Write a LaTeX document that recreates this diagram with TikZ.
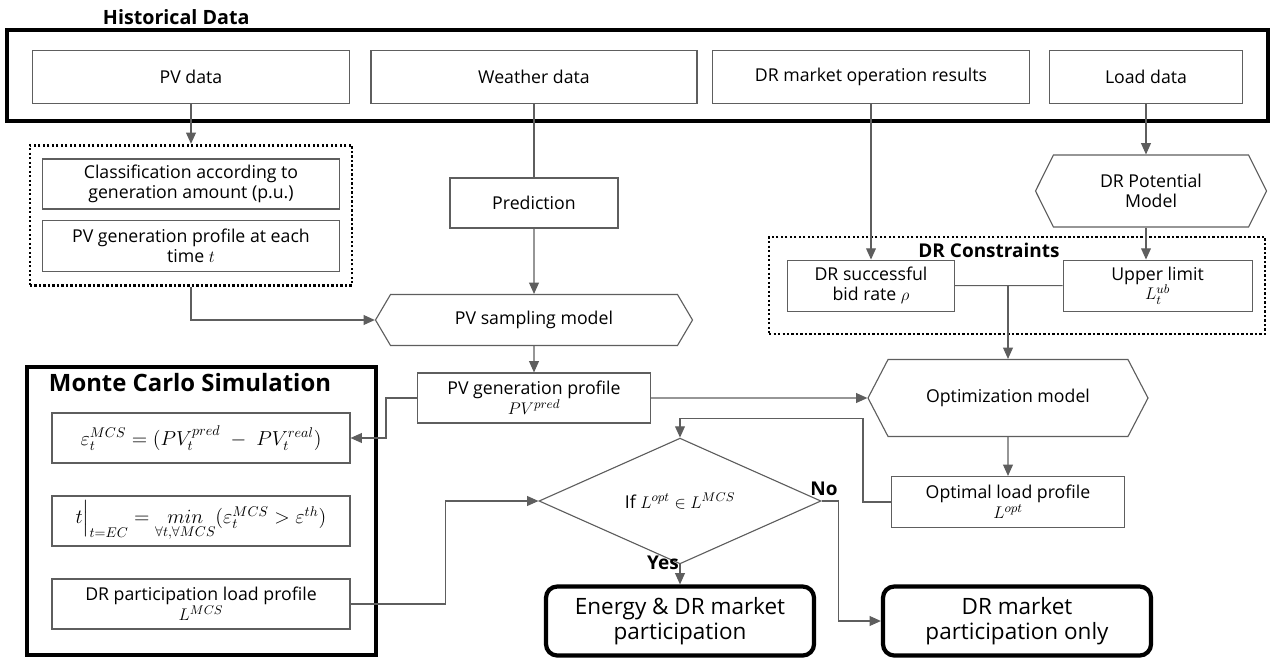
\documentclass[tikz,border=0pt]{standalone}
\usepackage{amsmath}
\usepackage{fontspec}
\setmainfont{Open Sans}
\usetikzlibrary{positioning,shapes.geometric,shapes.symbols,arrows.meta,fit}
\definecolor{linegray}{HTML}{5E5E5E}

\tikzset{
	box/.style={draw=linegray, line width=0.8pt, rectangle, align=center, inner sep=2pt, font=\fontsize{12.6}{14}\selectfont},
	hexa/.style={box, signal, signal to=west and east},
	cond/.style={box, diamond, inner sep=0pt, minimum width=7.05cm, minimum height=2.475cm},
	frame/.style={draw=black, line width=3pt},
	dotframe/.style={draw=black, line width=2pt, dash pattern=on 1.6pt off 1.6pt},
	endbox/.style={draw=black, line width=3pt, rounded corners=8pt, align=center, font=\fontsize{16}{18}\selectfont},
	link/.style={draw=linegray, line width=0.8pt},
	arr/.style={link, -{Triangle[length=8pt,width=7pt]}},
	title/.style={font=\fontsize{14}{17}\selectfont\bfseries},
	tag/.style={font=\fontsize{13.5}{15}\selectfont\bfseries}
}

\begin{document}
\begin{tikzpicture}[node distance=2cm,on grid,auto]
	\useasboundingbox (0,0) rectangle (31.825,-16.45);
	\node (h) [frame, minimum width=31.525cm, minimum height=2.275cm] at (15.94,-1.89) {};
	\node (ht) [title, anchor=west] at (2.45,-0.425) {Historical Data};
	\node (1) [box, minimum width=7.925cm, minimum height=1.325cm] at (4.775,-1.925) {PV data};
	\node (2) [box, minimum width=8.15cm, minimum height=1.325cm, right=8.575cm of 1] {Weather data};
	\node (3) [box, minimum width=7.925cm, minimum height=1.325cm, right=8.425cm of 2] {DR market operation results};
	\node (4) [box, minimum width=4.825cm, minimum height=1.325cm, right=6.875cm of 3] {Load data};
	\node (5) [box, minimum width=7.425cm, minimum height=1.25cm, below=2.675cm of 1] {Classification according to\\generation amount (p.u.)};
	\node (6) [box, minimum width=7.425cm, minimum height=1.275cm, below=1.55cm of 5] {PV generation profile at each\\time $t$};
	\node (g1) [dotframe, fit=(5)(6), inner xsep=0.3cm, inner ysep=0.33cm] {};
	\node (7) [box, minimum width=4.2cm, minimum height=1.25cm, below=3.15cm of 2] {Prediction};
	\node (8) [hexa, signal pointer angle=119, minimum width=7.925cm, minimum height=1.275cm, below=2.925cm of 7] {PV sampling model};
	\node (9) [box, minimum width=5.825cm, minimum height=1.25cm, below=1.95cm of 8] {PV generation profile\\$PV^{pred}$};
	\node (10) [hexa, signal pointer angle=127, minimum width=5.775cm, minimum height=1.8cm] at (28.775,-4.775) {DR Potential\\Model};
	\node (g2) [dotframe, minimum width=12.4cm, minimum height=2.425cm] at (25.425,-7.1375) {};
	\node (gt) [tag] at (24.725,-6.25) {DR Constraints};
	\node (11) [box, minimum width=4.175cm, minimum height=1.275cm, below=5.215cm of 3] {DR successful\\bid rate $\rho$};
	\node (12) [box, minimum width=4.725cm, minimum height=1.275cm] at (28.94,-7.14) {Upper limit\\$L_t^{ub}$};
	\node (13) [hexa, signal pointer angle=125, minimum width=7cm, minimum height=1.925cm] at (25.2,-9.95) {Optimization model};
	\node (14) [box, minimum width=5.825cm, minimum height=1.275cm, below=2.6cm of 13] {Optimal load profile\\$L^{opt}$};
	\node (mc) [frame, minimum width=8.725cm, minimum height=7.2cm] at (5.04,-12.775) {};
	\node (mct) [title, font=\fontsize{17}{20}\selectfont\bfseries, anchor=west] at (1.1,-9.575) {Monte Carlo Simulation};
	\node (15) [box, font=\fontsize{14}{16}\selectfont, minimum width=7.45cm, minimum height=1.25cm] at (5.025,-10.95) {$\varepsilon_t^{MCS}=(PV_t^{pred}\;-\;PV_t^{real})$};
	\node (16) [box, font=\fontsize{14}{16}\selectfont, minimum width=7.45cm, minimum height=1.25cm, below=2.075cm of 15] {$t\Big|_{t=EC}=\underset{\forall t,\forall MCS}{min}(\varepsilon_t^{MCS}>\varepsilon^{th})$};
	\node (17) [box, minimum width=7.45cm, minimum height=1.25cm, below=2.075cm of 16] {DR participation load profile\\$L^{MCS}$};
	\node (18) [cond] at (17,-12.525) {If $L^{opt}\in L^{MCS}$};
	\node (19) [endbox, minimum width=6.7cm, minimum height=1.725cm, below=3cm of 18] {Energy \& DR market\\participation};
	\node (20) [endbox, minimum width=6.7cm, minimum height=1.725cm, right=8.425cm of 19] {DR market\\participation only};
	\node (yes) [tag] at (16.575,-14.075) {Yes};
	\node (no) [tag] at (20.6,-12.225) {No};
	\path
		(1.south) edge[arr] (1.south |- g1.north)
		(2) edge[link] (7)
		(7) edge[arr] (8)
		(3) edge[arr] (11)
		(4.south) edge[arr] (4.south |- 10.north)
		(10.south -| 4) edge[arr] (12.north -| 4)
		(11) edge[link] (12)
		(13.north |- 11.east) edge[arr] (13.north)
		(8) edge[arr] (9)
		(9) edge[arr] (13)
		(13) edge[arr] (14)
		(18) edge[arr] (19);
	\draw[arr] (g1.south) |- (8.west);
	\draw[arr] (9.west) -- ++(-0.775,0) |- (15.east);
	\draw[arr] (17.east) -- ++(2.375,0) |- (18.west);
	\draw[arr] (14.west) -- ++(-0.7,0) |- ([yshift=0.475cm]18.north) -- (18.north);
	\draw[arr] (18.east) -- ++(0.425,0) |- (20.west);
\end{tikzpicture}
\end{document}
